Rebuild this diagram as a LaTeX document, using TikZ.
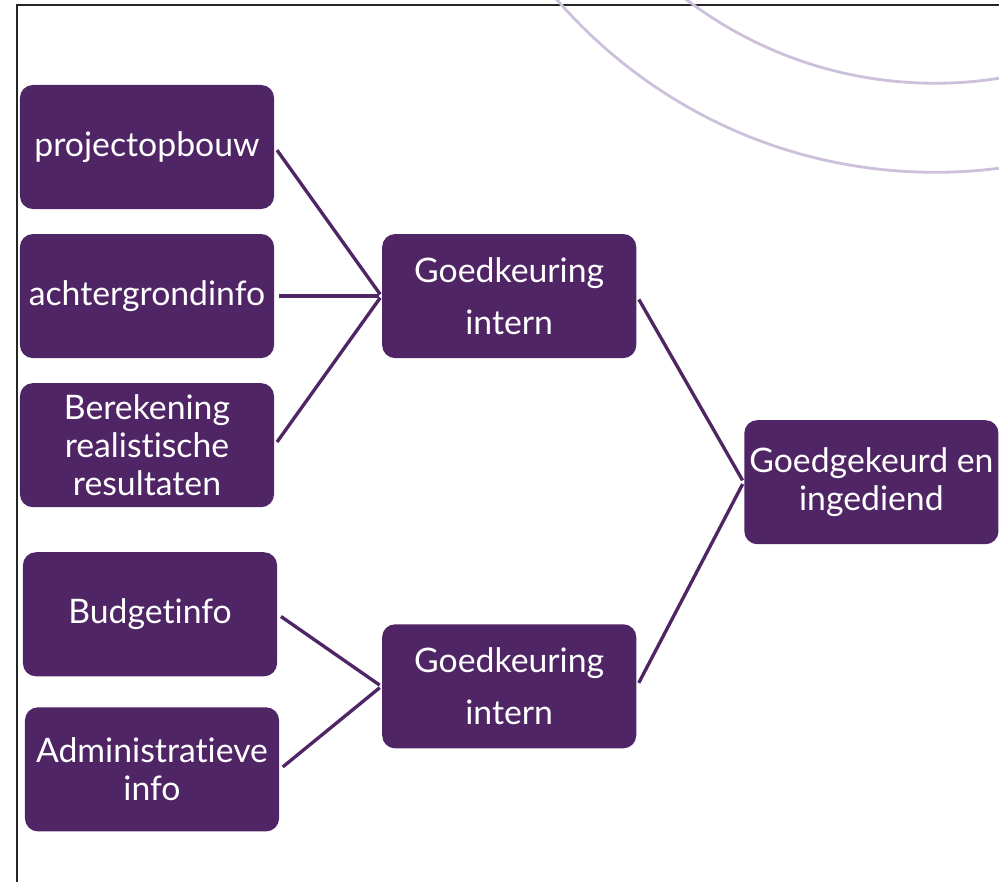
\documentclass[tikz,border=0pt]{standalone}
\usepackage{fontspec}
\setmainfont{Lato}[Ligatures={NoCommon,NoDiscretionary}]
\usepackage{tikz}
\usetikzlibrary{arrows}

\definecolor{plum}{RGB}{80,37,101}
\definecolor{lilac}{RGB}{205,192,218}

\tikzset{
    box/.style={rectangle, rounded corners=0.13cm, fill=plum, text=white,
        minimum width=2.54cm, minimum height=1.24cm, inner sep=0pt,
        align=center, font=\fontsize{9.6}{10.7}\selectfont},
    link/.style={draw=plum, line width=0.95pt, shorten <=1.1pt, shorten >=0.6pt}
}

\begin{document}
\begin{tikzpicture}[x=0.01cm, y=-0.01cm, node distance=1.49cm]
    \useasboundingbox (0,0) rectangle (999,882);
    \clip (0,0) rectangle (999,882);

    % Background frame and arcs
    \draw [line width=0.6pt, black!85] (17,5) rectangle (1030,910);
    \draw [lilac, line width=0.8pt] (935,-328) circle [radius=5cm];
    \draw [lilac, line width=0.8pt] (935,-328) circle [radius=4.11cm];

    % Nodes {input blocks, approvals, result}
    \node [box] (proj)    at (147,147)             {projectopbouw};
    \node [box] (achter)  [below of=proj]          {achtergrondinfo};
    \node [box] (bereken) [below of=achter]        {Berekening\\realistische\\resultaten};
    \node [box] (budget)  [node distance=1.69cm, below of=bereken, xshift=0.03cm] {Budgetinfo};
    \node [box] (admin)   [node distance=1.55cm, below of=budget, xshift=0.02cm]  {Administratieve\\info};
    \node [box] (gk1)     [node distance=3.62cm, right of=achter] {Goedkeuring\\[4pt]intern};
    \node [box] (gk2)     [node distance=3.90cm, below of=gk1]    {Goedkeuring\\[4pt]intern};
    \node [box] (klaar)   [node distance=3.62cm, right of=gk1, yshift=-1.86cm] {Goedgekeurd en\\ingediend};

    % Paths
    \path [link] (proj.east)    edge (gk1.west);
    \path [link] (achter.east)  edge (gk1.west);
    \path [link] (bereken.east) edge (gk1.west);
    \path [link] (budget.east)  edge (gk2.west);
    \path [link] (admin.east)   edge (gk2.west);
    \path [link] (gk1.east)     edge (klaar.west);
    \path [link] (gk2.east)     edge (klaar.west);

\end{tikzpicture}
\end{document}
